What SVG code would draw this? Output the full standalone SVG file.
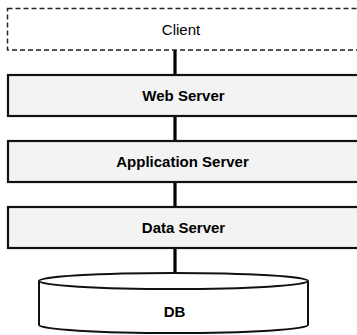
<svg xmlns="http://www.w3.org/2000/svg" width="357" height="335" viewBox="0 0 357 335">
  <style>
    .tier { fill: #f3f3f3; stroke: #111; stroke-width: 2.2; }
    .client { fill: #ffffff; stroke: #222; stroke-width: 1.5; stroke-dasharray: 5 3; }
    .label { font-family: "Liberation Sans", Arial, sans-serif; font-size: 15px; fill: #000; text-anchor: middle; }
    .bold { font-weight: bold; }
    .link { stroke: #000; stroke-width: 3.2; fill: none; }
    .db { fill: #ffffff; stroke: #111; stroke-width: 2; }
  </style>
  <rect width="357" height="335" fill="#ffffff"/>

  <!-- connectors between tiers -->
  <g id="connectors">
    <line class="link" x1="175" y1="50" x2="175" y2="75"/>
    <line class="link" x1="175" y1="116" x2="175" y2="141"/>
    <line class="link" x1="175" y1="182" x2="175" y2="207"/>
    <line class="link" x1="175" y1="248" x2="175" y2="274"/>
  </g>

  <g id="client">
    <rect class="client" x="7.5" y="8.5" width="360" height="41.5"/>
    <text class="label" x="181" y="34.5">Client</text>
  </g>

  <g id="web-server">
    <rect class="tier" x="8" y="75" width="360" height="41"/>
    <text class="label bold" x="183.5" y="100.5">Web Server</text>
  </g>

  <g id="application-server">
    <rect class="tier" x="8" y="141" width="360" height="41"/>
    <text class="label bold" x="182.5" y="166.5">Application Server</text>
  </g>

  <g id="data-server">
    <rect class="tier" x="8" y="207" width="360" height="41"/>
    <text class="label bold" x="183.5" y="232.8">Data Server</text>
  </g>

  <g id="db">
    <path class="db" d="M39,281 L39,325 A134.5,8 0 0 0 308,325 L308,281"/>
    <ellipse class="db" cx="173.5" cy="281" rx="134.5" ry="8"/>
    <text class="label bold" x="174.5" y="317">DB</text>
  </g>
</svg>
